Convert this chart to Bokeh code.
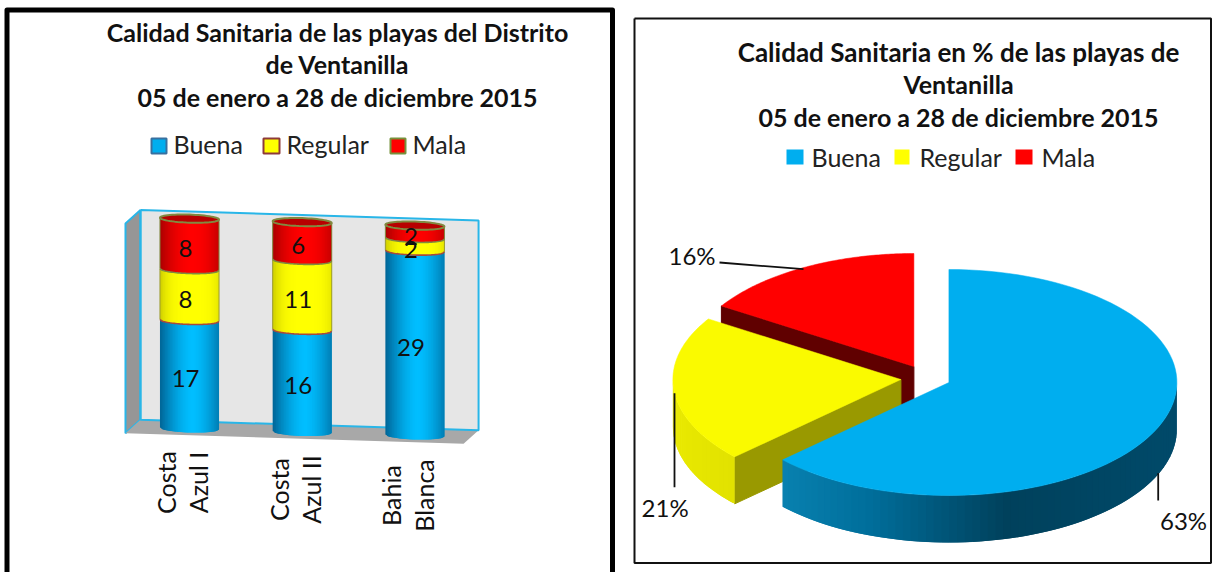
import math
from bokeh.plotting import figure
from bokeh.layouts import row
from bokeh.embed import file_html
from bokeh.resources import INLINE
from bokeh.core.properties import value

# ---------- data ----------
categories = [["Costa", "Azul I"], ["Costa", "Azul II"], ["Bahia", "Blanca"]]
series_names = ["Buena", "Regular", "Mala"]
buena = [17, 16, 29]
regular = [8, 11, 2]
mala = [8, 6, 2]
pie_values = [63, 21, 16]
pie_labels = ["63%", "21%", "16%"]
title_left = ["Calidad Sanitaria de las playas del Distrito", "de Ventanilla", "05 de enero a 28 de diciembre 2015"]
title_right = ["Calidad Sanitaria en % de las playas de", "Ventanilla", "05 de enero a 28 de diciembre 2015"]

FONT = value("Lato")
H = 572
W1, W2 = 625, 589


def lerp(c0, c1, t):
    return "#%02x%02x%02x" % tuple(round(a + (b - a) * t) for a, b in zip(c0, c1))


def make_fig(w, xr, yr):
    f = figure(width=w, height=H, x_range=xr, y_range=yr, output_backend="svg",
               toolbar_location=None, min_border=0, x_axis_type=None, y_axis_type=None,
               outline_line_color=None, background_fill_color="white", border_fill_color="white")
    f.grid.visible = False
    return f


# ---------- left chart: x in category index, y in counts ----------
X0, XU, Y0, YU = 189.0, 112.7, 428.0, 6.36
p1 = make_fig(W1, (-X0 / XU, (W1 - X0) / XU), ((Y0 - H) / YU, Y0 / YU))
SK = 0.55            # downward drift of the baseline per category


def lx(px):
    return (px - X0) / XU


def ly(py):
    return (Y0 - py) / YU


def sy(u, v):
    return v - SK * u


def frame_text(f, x, y, s, size, bold=False, align="center", angle=0.0, color="#111111"):
    f.text([x], [y], text=[s], text_font=FONT, text_font_size=f"{size}px",
           text_font_style="bold" if bold else "normal", text_align=align,
           text_baseline="middle", angle=angle, text_color=color)


# panel border, open at the window's bottom edge
p1.line([lx(6.5), lx(6.5), lx(612), lx(612)], [ly(600), ly(9.5), ly(9.5), ly(600)],
        line_color="black", line_width=5, line_join="round")

# box: back wall, side wall and floor
WL, WR, WT, WB, DU, DV = -0.435, 2.565, 34.13, 1.13, -0.133, -2.2
p1.patch([WL, WR, WR, WL], [sy(WL, WT), sy(WR, WT), sy(WR, WB), sy(WL, WB)],
         fill_color="#e6e6e6", line_color=None)
p1.patch([WL + DU, WL, WL, WL + DU], [sy(WL + DU, WT + DV), sy(WL, WT), sy(WL, WB), sy(WL + DU, WB + DV)],
         fill_color="#969696", line_color="#29b6e8", line_width=2)
p1.patch([WL + DU, WL, WR, WR + DU], [sy(WL + DU, WB + DV), sy(WL, WB), sy(WR, WB), sy(WR + DU, WB + DV)],
         fill_color="#a8a8a8", line_color=None)
p1.line([WL, WR, WR, WL, WL], [sy(WL, WT), sy(WR, WT), sy(WR, WB), sy(WL, WB), sy(WL, WT)],
        line_color="#29b6e8", line_width=2)

# cylinders
RAD, CAP, N = 0.262, 0.63, 36
center_cols = [(0, 190, 255), (255, 255, 0), (255, 0, 0)]
edge_cols = [(0, 100, 150), (205, 205, 0), (170, 0, 0)]
sharp = [1.6, 3.5, 2.0]
rim_cols = ["#0a6c9c", "#a84a3c", "#7f8a40"]
side_cols = ["#0a6c9c", "#9a9a30", "#7f8a40"]
stack = [buena, regular, mala]

for i in range(len(categories)):
    lo = 0.0
    for s, vals in enumerate(stack):
        hi = lo + vals[i]
        xs, ys, cs = [], [], []
        for k in range(N):
            a = -1 + 2 * k / N
            b = min(1.0, -1 + 2 * (k + 2) / N)   # each strip runs under the next one, so no seams
            ca = CAP * math.sqrt(max(0, 1 - a * a))
            cb = CAP * math.sqrt(max(0, 1 - b * b))
            xa, xb = i + RAD * a, i + RAD * b
            xs.append([xa, xb, xb, xa])
            ys.append([sy(xa, lo - ca), sy(xb, lo - cb), sy(xb, hi - cb), sy(xa, hi - ca)])
            m = -1 + 2 * (k + 0.5) / N
            cs.append(lerp(center_cols[s], edge_cols[s], min(1, (abs(m - 0.1) / 1.1) ** sharp[s])))
        p1.patches(xs, ys, fill_color=cs, line_color=None)
        ux = [-1 + 2 * k / N for k in range(N + 1)]
        front = lambda v: ([i + RAD * u for u in ux],
                           [sy(i + RAD * u, v - CAP * math.sqrt(max(0, 1 - u * u))) for u in ux])
        if s > 0:
            fx, fy = front(lo)
            p1.line(fx, fy, line_color=rim_cols[s], line_width=1.6)
            p1.line([i - RAD, i - RAD], [sy(i - RAD, lo), sy(i - RAD, hi)], line_color=side_cols[s], line_width=1)
            p1.line([i + RAD, i + RAD], [sy(i + RAD, lo), sy(i + RAD, hi)], line_color=side_cols[s], line_width=1)
        lo = hi
    angs = [2 * math.pi * k / 60 for k in range(61)]
    ex = [i + RAD * math.cos(t) for t in angs]
    ey = [sy(i + RAD * math.cos(t), lo + CAP * math.sin(t)) for t in angs]
    p1.patch(ex, ey, fill_color="#b80000", line_color="#808a40", line_width=2)

    # value labels
    lo = 0.0
    for vals in stack:
        mid = lo + vals[i] / 2
        frame_text(p1, i - 0.035, sy(i, mid - 0.7), str(vals[i]), 24)
        lo += vals[i]

# category labels
label_x = [(165, 197), (278, 310), (390, 423)]
label_y = [482, 489, 495]
for i, lines in enumerate(categories):
    for j, t in enumerate(lines):
        frame_text(p1, lx(label_x[i][j]), ly(label_y[i]), t, 25, angle=math.pi / 2)

# title
for t, py in zip(title_left, [31, 63, 96]):
    frame_text(p1, lx(337), ly(py), t, 25, bold=True)

# legend
for (sq0, sq1, tx), name, col, edge in zip([(151, 166, 173), (263, 279, 286), (390, 405, 412)], series_names,
                                           ["#00aeef", "#ffff00", "#ff0000"], ["#38709f", "#8e3a3a", "#76923c"]):
    p1.patch([lx(sq0), lx(sq1), lx(sq1), lx(sq0)], [ly(138), ly(138), ly(153), ly(153)],
             fill_color=col, line_color=edge, line_width=2)
    frame_text(p1, lx(tx), ly(143), name, 25, align="left", color="#222222")

# ---------- right chart: radial units, rx = ry = 1 ----------
CX, RX, CY, RY = 948.4, 228.0, 382.0, 113.0
p2 = make_fig(W2, ((625 - CX) / RX, (625 + W2 - CX) / RX), ((CY - H) / RY, CY / RY))
DEPTH = 47 / RY


def rx(px):
    return (px - CX) / RX


def ry(py):
    return (CY - py) / RY


p2.line([rx(634), rx(1210.5), rx(1210.5), rx(634), rx(634)], [ry(18), ry(18), ry(562.5), ry(562.5), ry(18)],
        line_color="#111111", line_width=2)

total = sum(pie_values)
edges = [0.0]
for v in pie_values:
    edges.append(edges[-1] + v / total * 2 * math.pi)
explode = [(0.0, 0.0), (-48 / RX, 3 / RY), (-35 / RX, 16 / RY)]


def pt(th, off, drop=0.0):
    return off[0] + math.sin(th), off[1] + math.cos(th) - drop


def arc(a, b, off, n=90):
    return [pt(a + (b - a) * k / n, off) for k in range(n + 1)]


def wall(a, b, off, stops, n=70):
    """Outer wall of a slice, painted from a to b as strips that overlap the previous one."""
    xs, ys, cs = [], [], []
    for k in range(n):
        t0 = a + (b - a) * k / n
        t1 = a + (b - a) * min(n, k + 2) / n
        x0, y0 = pt(t0, off)
        x1, y1 = pt(t1, off)
        xs.append([x0, x1, x1, x0])
        ys.append([y0, y1, y1 - DEPTH, y0 - DEPTH])
        xm = pt(a + (b - a) * (k + 0.5) / n, off)[0]
        col = None
        for (p0, c0), (p1_, c1) in zip(stops, stops[1:]):
            if p0 <= xm <= p1_:
                col = lerp(c0, c1, (xm - p0) / (p1_ - p0))
                break
        cs.append(col or lerp(stops[-1][1], stops[-1][1], 0))
    p2.patches(xs, ys, fill_color=cs, line_color=None)


def cut(th, off, color):
    x, y = pt(th, off)
    p2.patch([off[0], x, x, off[0]], [off[1], y, y - DEPTH, off[1] - DEPTH], fill_color=color, line_color=color)


def top(a, b, off, color):
    pts = arc(a, b, off)
    p2.patch([off[0]] + [q[0] for q in pts], [off[1]] + [q[1] for q in pts], fill_color=color, line_color=color, line_width=0.5)


# red
cut(edges[2], explode[2], "#600000")
top(edges[2], edges[3], explode[2], "#ff0000")
# yellow
cut(edges[1], explode[1], "#999900")
wall(edges[1], 1.5 * math.pi, explode[1], [(-1.4, (238, 238, 0)), (-0.5, (214, 214, 0))])
top(edges[1], edges[2], explode[1], "#fafa00")
# blue
wall(edges[0] + math.pi / 2, edges[1], explode[0],
     [(-1.0, (14, 142, 190)), (-0.35, (0, 110, 155)), (0.25, (0, 65, 92)), (1.01, (0, 74, 106))])
top(edges[0], edges[1], explode[0], "#00aeef")

# leader lines
for (xa, ya, xb, yb) in [(1157.7, 472.7, 1157.7, 500), (674, 392.7, 674, 486.7), (719, 262, 803, 268.7)]:
    p2.line([rx(xa), rx(xb)], [ry(ya), ry(yb)], line_color="#111111", line_width=1.8)

# value labels
for t, (xa, ya) in zip(pie_labels, [(1183, 520), (664.6, 507), (691.5, 255)]):
    frame_text(p2, rx(xa), ry(ya), t, 24)

# title
for t, py, sz in zip(title_right, [51, 83, 116], [26, 25, 25]):
    frame_text(p2, rx(958), ry(py), t, sz, bold=True)

# legend
for (sq0, sq1, tx), name, col in zip([(786, 803, 811), (894, 909, 919), (1015, 1032, 1041)], series_names,
                                     ["#00aeef", "#ffff00", "#ff0000"]):
    p2.patch([rx(sq0), rx(sq1), rx(sq1), rx(sq0)], [ry(149), ry(149), ry(164), ry(164)],
             fill_color=col, line_color=None)
    frame_text(p2, rx(tx), ry(156), name, 25, align="left", color="#222222")

layout = row(p1, p2, spacing=0, margin=0)
open("out.html", "w").write(file_html(layout, INLINE))
